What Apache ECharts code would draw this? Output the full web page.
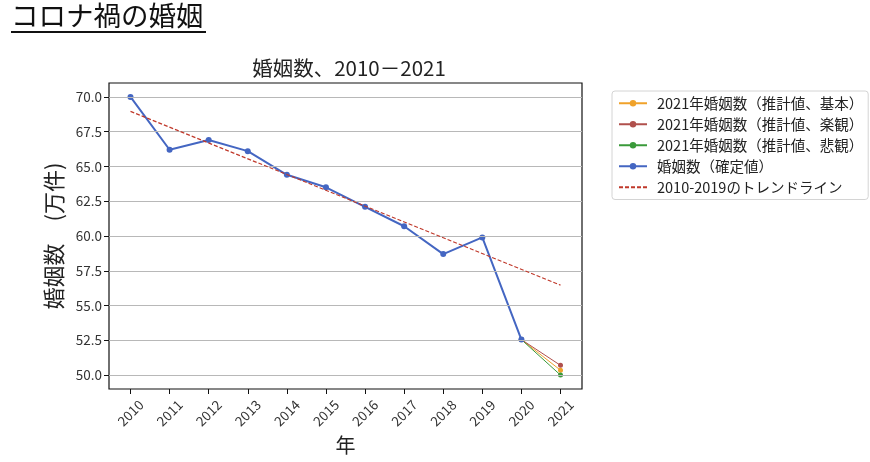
<!DOCTYPE html>
<html>
<head>
<meta charset="utf-8">
<script src="https://cdn.jsdelivr.net/npm/echarts@6/dist/echarts.min.js"></script>
<style>
html,body{margin:0;padding:0;background:#fff;}
#c{width:870px;height:462px;}
</style>
</head>
<body>
<div id="c"></div>
<script>
const years = [2010, 2011, 2012, 2013, 2014, 2015, 2016, 2017, 2018, 2019, 2020, 2021];
const confirmed = [70.0, 66.2, 66.9, 66.1, 64.4, 63.5, 62.1, 60.7, 58.7, 59.9, 52.55, null];
const estBasic = [52.55, 50.35];
const estOptimistic = [52.55, 50.7];
const estPessimistic = [52.55, 50.0];
const estYears = [2020, 2021];
const trendYears = [2010, 2021];
const trendValues = [68.96, 56.47];
const yTicks = [50.0, 52.5, 55.0, 57.5, 60.0, 62.5, 65.0, 67.5, 70.0];

const F = '"Noto Sans CJK JP", "Noto Sans", sans-serif';
const pair = (xs, ys) => xs.map((x, i) => [x, ys[i]]).filter(d => d[1] !== null);

const names = ['2021年婚姻数（推計値、基本）', '2021年婚姻数（推計値、楽観）', '2021年婚姻数（推計値、悲観）', '婚姻数（確定値）', '2010-2019のトレンドライン'];

const chart = echarts.init(document.getElementById('c'));
chart.setOption({
  animation: false,
  backgroundColor: '#fff',
  textStyle: { fontFamily: F },
  title: {
    text: '婚姻数、2010－2021',
    left: 344, top: 53, textAlign: 'center',
    textStyle: { fontFamily: F, fontSize: 20.5, fontWeight: 'normal', color: '#222' }
  },
  graphic: [
    { type: 'text', left: 11, top: 2, style: { text: 'コロナ禍の婚姻', font: '27.5px "Noto Sans CJK JP"', fill: '#111' } },
    { type: 'line', shape: { x1: 11, y1: 32, x2: 206, y2: 32 }, style: { stroke: '#111', lineWidth: 2 } }
  ],
  grid: {
    left: 109, right: 288, top: 83, bottom: 73,
    show: true, borderColor: '#111', borderWidth: 1.2, backgroundColor: 'transparent'
  },
  legend: {
    orient: 'vertical', left: 612, top: 91,
    data: names,
    itemWidth: 28, itemHeight: 8, itemGap: 6.5,
    padding: [5, 5, 5, 6],
    borderColor: '#d4d4d4', borderWidth: 1, borderRadius: 3,
    textStyle: { fontFamily: F, fontSize: 14.5, color: '#222', lineHeight: 14.2, padding: [0, 0, 0, 5] }
  },
  xAxis: {
    type: 'value', min: 2009.45, max: 2021.55,
    name: '年', nameLocation: 'middle', nameGap: 46,
    nameTextStyle: { fontFamily: F, fontSize: 20, color: '#222' },
    axisLine: { show: false },
    axisTick: { show: true, customValues: years, length: 5, lineStyle: { color: '#111' } },
    axisLabel: { customValues: years, rotate: 45, align: 'center', verticalAlign: 'middle', fontSize: 13.5, color: '#333', margin: 24, formatter: v => String(v) },
    splitLine: { show: false }
  },
  yAxis: {
    type: 'value', min: 49.0, max: 71.0,
    name: '婚姻数　(万件)', nameLocation: 'middle', nameGap: 44,
    nameTextStyle: { fontFamily: F, fontSize: 22, color: '#222' },
    axisLine: { show: false },
    axisTick: { show: true, customValues: yTicks, length: 5, lineStyle: { color: '#111' } },
    axisLabel: { customValues: yTicks, fontSize: 13.5, color: '#333', margin: 7, formatter: v => v.toFixed(1) },
    splitLine: { show: false }
  },
  series: [
    {
      name: '_grid', type: 'line', data: [[2010, null]], z: 1, silent: true,
      markLine: {
        silent: true, symbol: 'none', label: { show: false }, animation: false,
        lineStyle: { color: '#b8b8b8', width: 1, type: 'solid' },
        data: yTicks.map(v => ({ yAxis: v }))
      }
    },
    {
      name: names[0], type: 'line', z: 3, data: pair(estYears, estBasic),
      color: '#f0a22a', symbol: 'circle', symbolSize: 5, lineStyle: { width: 1 }
    },
    {
      name: names[1], type: 'line', z: 3, data: pair(estYears, estOptimistic),
      color: '#b0504c', symbol: 'circle', symbolSize: 5, lineStyle: { width: 1 }
    },
    {
      name: names[2], type: 'line', z: 3, data: pair(estYears, estPessimistic),
      color: '#3a9a3a', symbol: 'circle', symbolSize: 5, lineStyle: { width: 1 }
    },
    {
      name: names[3], type: 'line', z: 4, data: pair(years, confirmed),
      color: '#4466c2', symbol: 'circle', symbolSize: 6, lineStyle: { width: 2 }
    },
    {
      name: names[4], type: 'line', z: 5, data: pair(trendYears, trendValues),
      symbol: 'none', showSymbol: false,
      itemStyle: { color: 'rgba(0,0,0,0)', borderWidth: 0 },
      lineStyle: { color: '#c0392b', width: 1.2, type: [4, 2] }
    }
  ]
});
</script>
</body>
</html>
